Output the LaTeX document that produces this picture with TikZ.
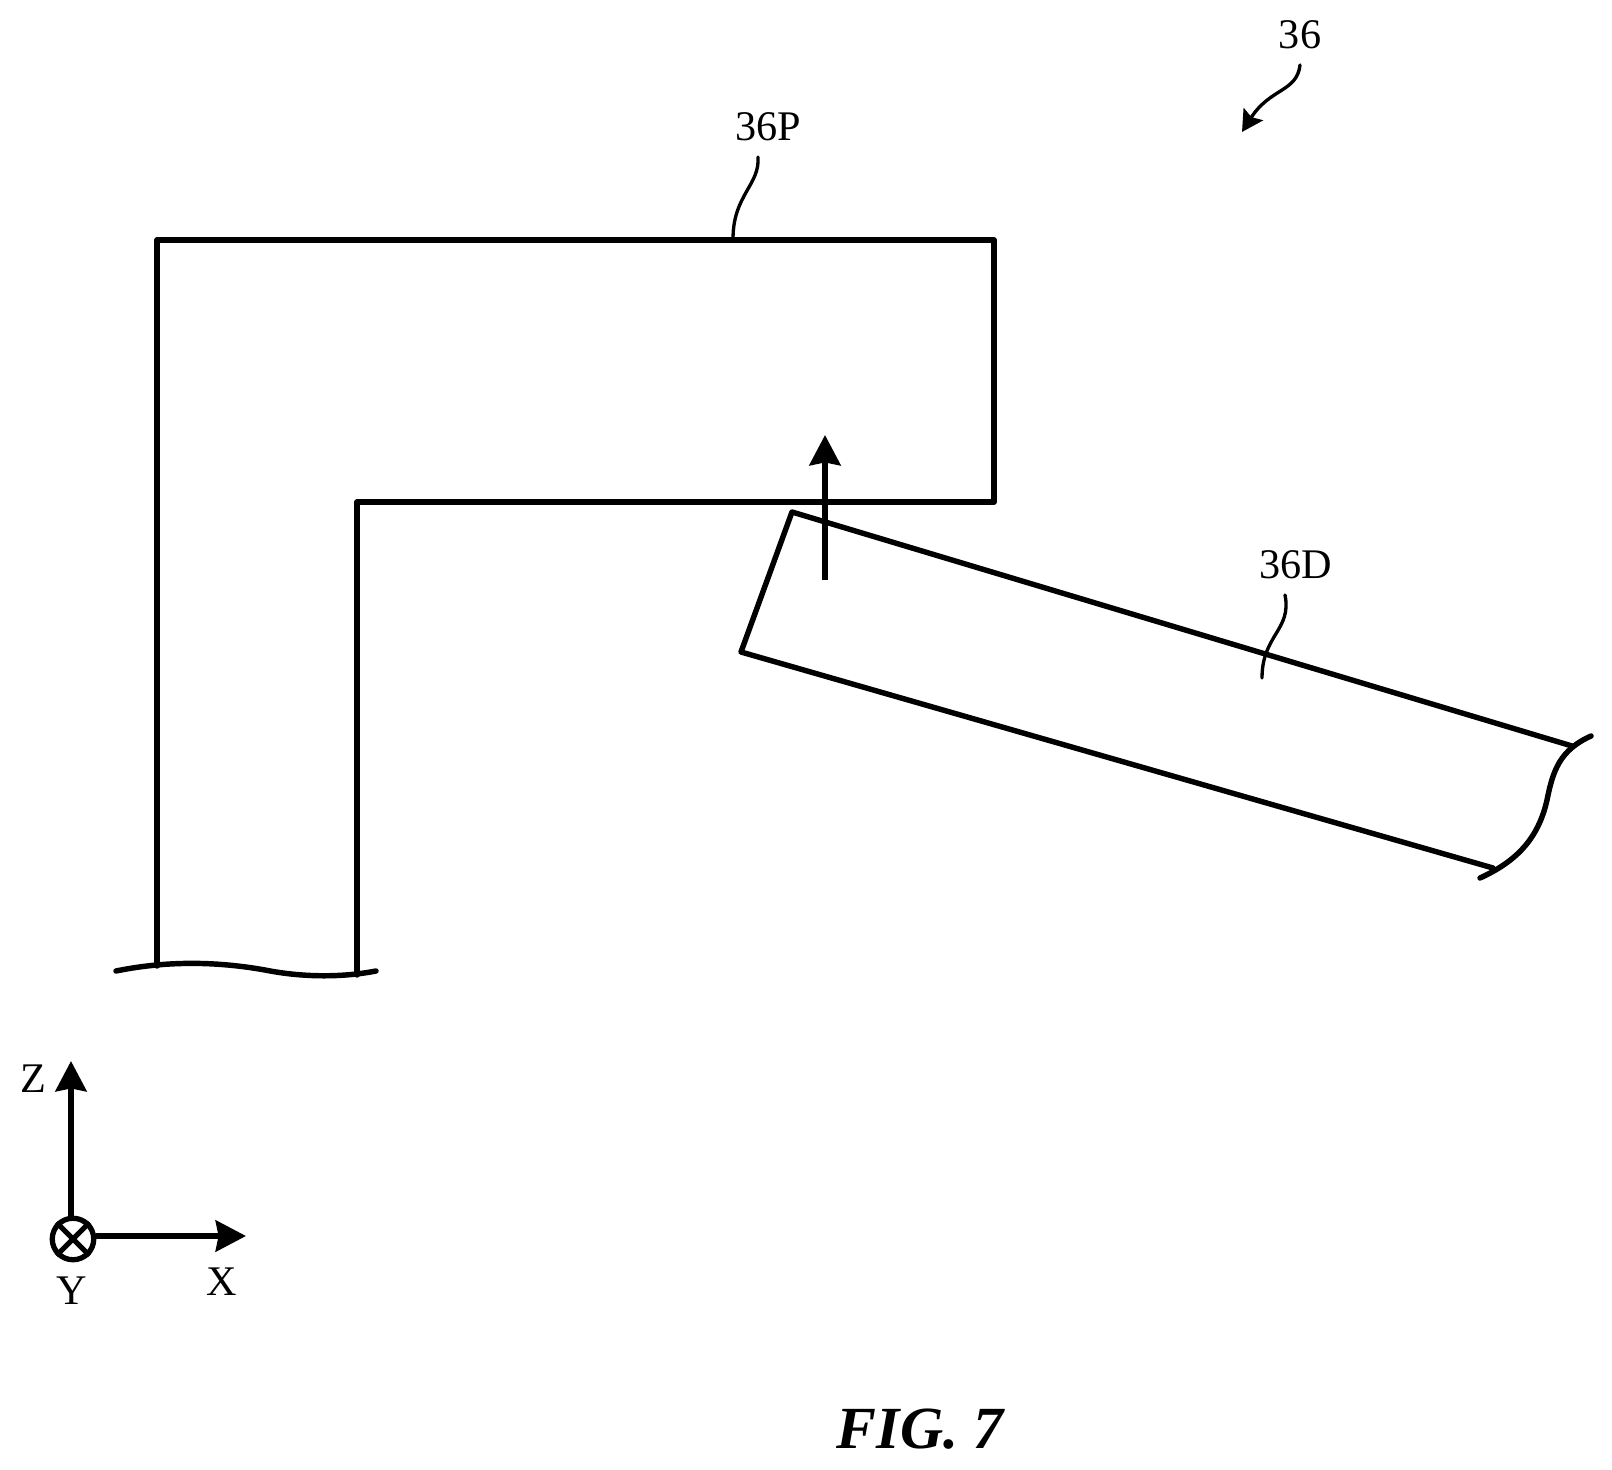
\documentclass[tikz,border=0pt]{standalone}
\usepackage{fontspec}
\setmainfont{Liberation Serif}
\usetikzlibrary{arrows.meta}
\tikzset{
	partline/.style={line width=1.55pt, line cap=round, line join=round},
	leaderline/.style={line width=0.95pt, line cap=round},
	axisline/.style={line width=1.65pt, -{Stealth[length=8.6pt,width=8.8pt,inset=0.8pt]}},
	reftext/.style={inner sep=0pt, font=\fontsize{12}{14}\selectfont},
}
\begin{document}
\begin{tikzpicture}[x=0.01cm,y=-0.01cm]
	\useasboundingbox (0,0) rectangle (1612,1470);

	%the L shaped part 36P
	\coordinate (pa) at (157,966);
	\coordinate (pb) at (157,240);
	\coordinate (pc) at (994,240);
	\coordinate (pd) at (994,502);
	\coordinate (pe) at (357,502);
	\coordinate (pf) at (357,975);
	\draw[partline] (pa) -- (pb) -- (pc) -- (pd) -- (pe) -- (pf);
	\draw[partline] (116,971) .. controls (170,960) and (220,962) .. (265,970) .. controls (300,977) and (340,978) .. (376,971);

	%the tilted part 36D
	\coordinate (da) at (1572,746);
	\coordinate (db) at (792,512);
	\coordinate (dc) at (741,652);
	\coordinate (dd) at (1493,868);
	\draw[partline] (da) -- (db) -- (dc) -- (dd);
	\draw[partline] (1591,736) .. controls (1560,750) and (1553,770) .. (1547,800) .. controls (1538,840) and (1515,862) .. (1480,878);

	%arrow across both parts
	\coordinate (moveend) at (825,580);
	\coordinate (movetip) at (825,435);
	\draw[axisline] (moveend) -- (movetip);

	%reference numerals with their leaders
	\node[reftext] (main) at (1300,35) {36};
	\coordinate (mainfrom) at (1300,65);
	\coordinate (maintip) at (1242,132);
	\draw[leaderline, -{Stealth[length=6pt,width=6.5pt,inset=1pt]}] (mainfrom) .. controls (1297,92) and (1270,88) .. (maintip);

	\node[reftext] (upper) at (768,127) {36P};
	\coordinate (upperfrom) at (758,157);
	\coordinate (upperto) at (733,239);
	\draw[leaderline] (upperfrom) .. controls (760,185) and (733,195) .. (upperto);

	\node[reftext] (lower) at (1296,565) {36D};
	\coordinate (lowerfrom) at (1285,595);
	\coordinate (lowerto) at (1262,678);
	\draw[leaderline] (lowerfrom) .. controls (1292,630) and (1262,635) .. (lowerto);

	%axes
	\node[draw, circle, line width=1.5pt, minimum size=41.5*0.01cm, inner sep=0pt] (yaxis) at (73,1239) {};
	\draw[line width=1.5pt] (yaxis.45) -- (yaxis.225);
	\draw[line width=1.5pt] (yaxis.135) -- (yaxis.315);
	\coordinate (ztip) at (71,1061);
	\coordinate (xtip) at (246,1236);
	\draw[axisline] (yaxis.north -| ztip) -- (ztip);
	\draw[axisline] (yaxis.east |- xtip) -- (xtip);
	\node[reftext] (zlabel) at (33,1079) {Z};
	\node[reftext] (ylabel) at (72,1291) {Y};
	\node[reftext] (xlabel) at (222,1282) {X};

	%figure caption
	\node[inner sep=0pt, font=\fontsize{17}{20}\selectfont\bfseries\itshape] (caption) at (920,1429) {FIG. 7};
\end{tikzpicture}
\end{document}
